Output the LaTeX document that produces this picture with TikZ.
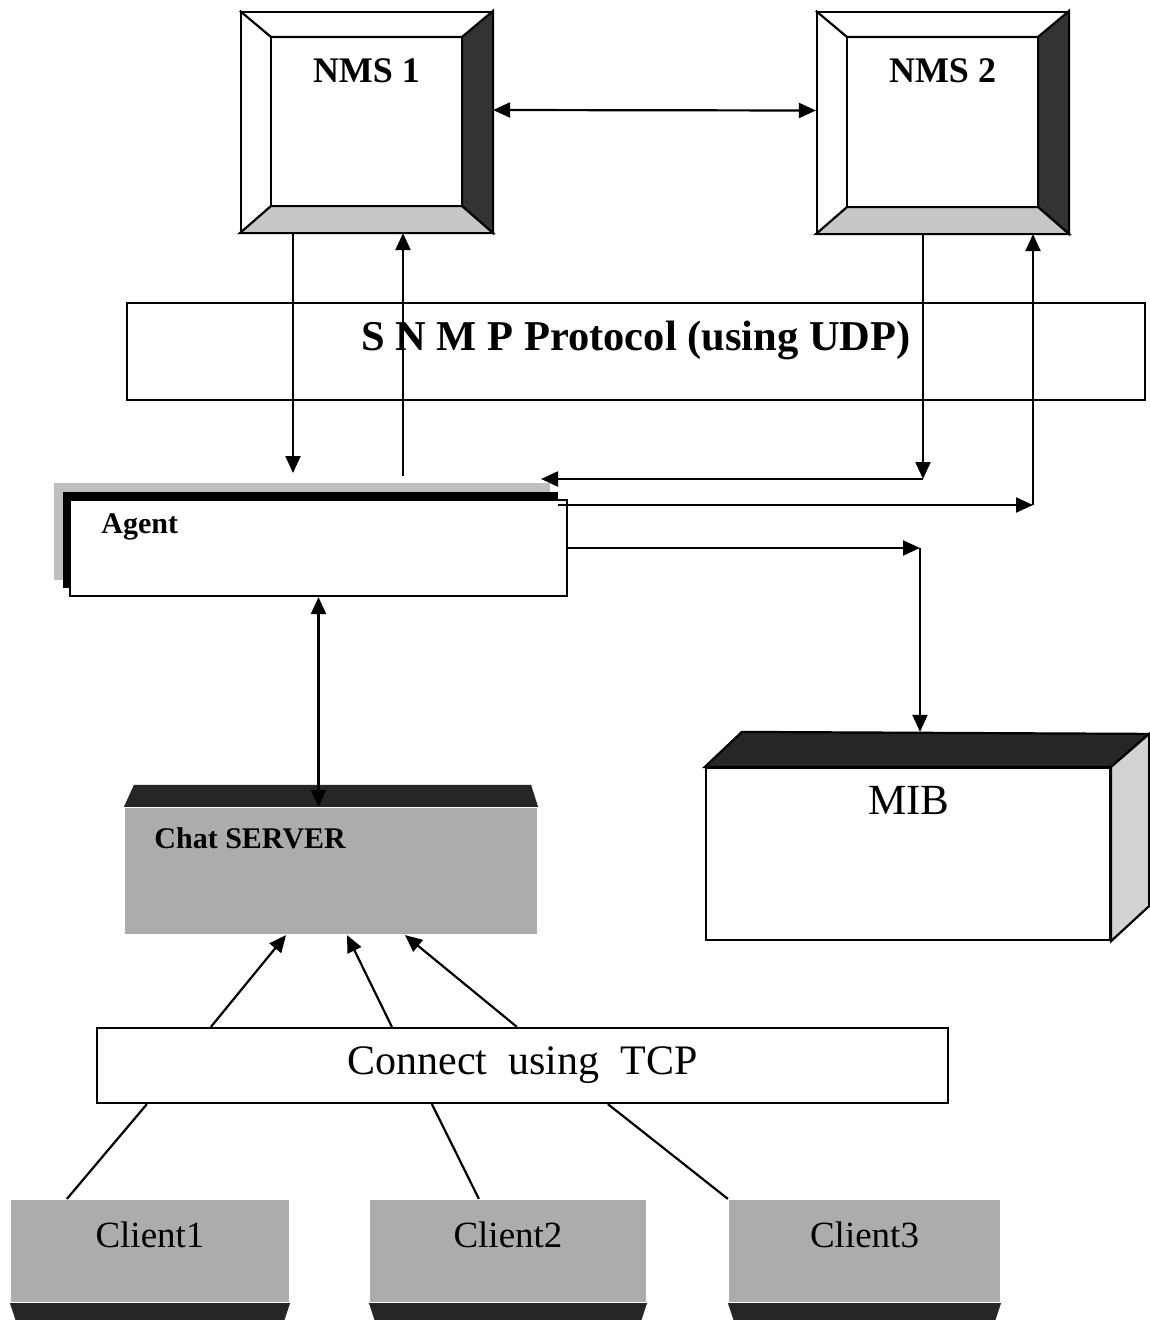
\documentclass[tikz,border=0pt]{standalone}
\usepackage{fontspec}
\setmainfont{Liberation Serif}
\usetikzlibrary{arrows.meta, calc}
\colorlet{bevelcolor}{black!80}
\colorlet{floorcolor}{gray!45}
\colorlet{rockcolor}{gray!65}
\colorlet{lidcolor}{black!85}

\begin{document}
\begin{tikzpicture}[x=1pt, y=-1pt, line width=2.2pt,
  tip/.style={-{Triangle[length=17pt, width=15pt]}},
  twotip/.style={{Triangle[length=17pt, width=15pt]}-{Triangle[length=17pt, width=15pt]}},
  frame/.style={draw, rectangle, inner sep=0pt, fill=white},
  rock/.style={rectangle, inner sep=0pt, fill=rockcolor}]

  % Page: same proportions as the scanned figure, one unit per pixel.
  \useasboundingbox[fill=white] (0,0) rectangle (1149,1320);

  % Two management stations, bevelled frames.
  \node[frame, minimum width=251, minimum height=220] (nms1) at (366.5,122) {};
  \node[frame, minimum width=251, minimum height=221] (nms2) at (942.5,122.5) {};
  \foreach \n in {nms1, nms2} {
    \coordinate (\n-nw) at ($(\n.north west)+(31,26)$);
    \coordinate (\n-ne) at ($(\n.north east)+(-31,26)$);
    \coordinate (\n-se) at ($(\n.south east)+(-31,-27)$);
    \coordinate (\n-sw) at ($(\n.south west)+(31,-27)$);
    \filldraw[fill=bevelcolor] (\n.north east) -- (\n.south east) -- (\n-se) -- (\n-ne) -- cycle;
    \filldraw[fill=floorcolor] (\n.south west) -- (\n.south east) -- (\n-se) -- (\n-sw) -- cycle;
    \draw (\n.north west) -- (\n-nw) -- (\n-ne);
    \draw (\n-nw) -- (\n-sw);
  }
  \node[font=\fontsize{36}{40}\selectfont\bfseries] (nms1-label) at ($(nms1.north)+(0,60)$) {NMS 1};
  \node[font=\fontsize{36}{40}\selectfont\bfseries] (nms2-label) at ($(nms2.north)+(0,60)$) {NMS 2};

  % Protocol band, the arrows run across it.
  \node[draw, rectangle, minimum width=1018, minimum height=97] (snmp) at (636,351.5) {};
  \node[font=\fontsize{42.5}{46}\selectfont\bfseries] (snmp-label) at ($(snmp.center)+(0,-11)$)
    {S N M P Protocol (using UDP)};

  % Agent with its stacked shadow.
  \fill[gray!50] (54,483) rectangle (550,580);
  \fill[black] (63,492) rectangle (558,588);
  \node[frame, minimum width=497, minimum height=96] (agent) at (318.5,548) {};
  \node[font=\fontsize{30}{34}\selectfont\bfseries, anchor=west] (agent-label) at (97,527) {Agent};

  % MIB block.
  \node[frame, minimum width=404, minimum height=172] (mib) at (908,854) {};
  \filldraw[fill=lidcolor] (mib.north west) -- (mib.north east) -- ++(38,-33)
    -- ($(mib.north west)+(37,-35)$) -- cycle;
  \filldraw[fill=gray!35] (mib.north east) -- ++(38,-33) -- ($(mib.south east)+(38,-35)$)
    -- (mib.south east) -- cycle;
  \coordinate (mib-top) at ($(mib.north)+(12,-35)$);
  \node[font=\fontsize{43}{46}\selectfont] (mib-label) at (909,800) {MIB};

  % Chat server block.
  \node[rock, minimum width=412, minimum height=126] (server) at (331,871) {};
  \fill[lidcolor] (server.north west) -- (server.north east) -- ++(-7,-22)
    -- ($(server.north west)+(10,-22)$) -- cycle;
  \node[font=\fontsize{30}{34}\selectfont\bfseries, anchor=west] (server-label) at (150,838) {Chat SERVER};

  % TCP band.
  \node[draw, rectangle, minimum width=851, minimum height=75,
    font=\fontsize{42}{46}\selectfont] (tcp) at (522.5,1065.5) {Connect\ \ using\ \ TCP};

  % Clients, cut off at the bottom of the page.
  \node[rock, minimum width=278, minimum height=102] (client1) at (150,1251) {};
  \node[rock, minimum width=276, minimum height=102] (client2) at (508,1251) {};
  \node[rock, minimum width=271, minimum height=102] (client3) at (864.5,1251) {};
  \foreach \n/\t in {client1/Client1, client2/Client2, client3/Client3} {
    \fill[lidcolor] (\n.south west) -- (\n.south east) -- ++(-6,18)
      -- ($(\n.south west)+(6,18)$) -- cycle;
    \node[font=\fontsize{37}{40}\selectfont] (\n-label) at ($(\n.center)+(0,-16)$) {\t};
  }

  % NMS <-> NMS
  \draw[twotip] ([yshift=12pt]nms1.east) -- ([yshift=12pt]nms2.west);

  % NMS 1 <-> agent
  \coordinate (agent-in1) at (293,473);
  \coordinate (agent-out1) at (403,476);
  \draw[tip] (nms1.south -| agent-in1) -- (agent-in1);
  \draw[tip] (agent-out1) -- (nms1.south -| agent-out1);

  % NMS 2 <-> agent, both with a bend
  \coordinate (nms2-turn1) at (923,479);
  \coordinate (agent-in2) at (541,479);
  \draw[tip] (nms2.south -| nms2-turn1) -- (nms2-turn1);
  \draw[tip] (nms2-turn1) -- (agent-in2);
  \coordinate (agent-out2) at (558,505);
  \coordinate (nms2-turn2) at (1033,505);
  \draw[tip] (agent-out2) -- (nms2-turn2);
  \draw[tip] (nms2-turn2) -- (nms2.south -| nms2-turn2);

  % agent -> MIB
  \coordinate (mib-turn) at (920,548);
  \draw[tip] (agent.east) -- (mib-turn);
  \draw[tip] (mib-turn) -- (mib-turn |- mib-top);

  % agent <-> chat server
  \draw[twotip] (agent.south) -- (agent.south |- server.north);

  % TCP band -> server
  \draw[tip] ([xshift=115pt]tcp.north west) -- ([xshift=-45pt]server.south);
  \draw[tip] ([xshift=296pt]tcp.north west) -- ([xshift=16pt]server.south);
  \draw[tip] ([xshift=421pt]tcp.north west) -- ([xshift=74pt]server.south);

  % clients to TCP band
  \draw ([xshift=51pt]tcp.south west) -- ([xshift=57pt]client1.north west);
  \draw ([xshift=336pt]tcp.south west) -- ([xshift=110pt]client2.north west);
  \draw ([xshift=512pt]tcp.south west) -- (client3.north west);

\end{tikzpicture}
\end{document}
